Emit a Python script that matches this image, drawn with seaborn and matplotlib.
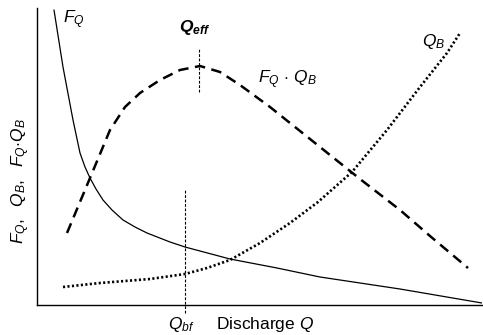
import matplotlib
matplotlib.use("Agg")
import matplotlib.pyplot as plt
import seaborn as sns

# Curves (arbitrary units: discharge vs. magnitude)
fq_x = [17, 26, 36, 43, 48, 53, 59, 66, 75, 86, 98, 110, 133, 148, 193, 240, 283, 363, 445]
fq_y = [295, 238, 185, 152, 138, 127, 116, 105, 95, 85, 78, 72, 63, 58, 46, 37, 28, 16, 2]

fqqb_x = [30, 53, 73, 88, 103, 123, 143, 163, 183, 203, 233, 263, 293, 323, 363, 393, 431]
fqqb_y = [72, 127, 175, 198, 212, 225, 235, 239, 233, 220, 198, 174, 150, 126, 95, 69, 37]

qb_x = [26, 63, 113, 148, 170, 193, 223, 253, 281, 315, 350, 383, 410, 423]
qb_y = [18, 22, 26, 31, 37, 45, 62, 82, 103, 133, 175, 218, 252, 272]

q_eff = 162
q_eff_span = (213, 256)
q_bf = 148
q_bf_top = 115

sns.set_theme(style="white")
plt.rcParams["font.family"] = ["Liberation Sans", "DejaVu Sans"]
plt.rcParams["text.color"] = "black"
plt.rcParams["mathtext.fontset"] = "custom"
plt.rcParams["mathtext.rm"] = "Liberation Sans"
plt.rcParams["mathtext.it"] = "Liberation Sans:italic"
plt.rcParams["mathtext.bf"] = "Liberation Sans:italic:bold"

fig = plt.figure(figsize=(4.83, 3.35), dpi=100)
ax = fig.add_axes([37 / 483, 30 / 335, 445 / 483, 297 / 335])

sns.lineplot(x=fq_x, y=fq_y, color="black", lw=0.9, ax=ax)
sns.lineplot(x=fqqb_x, y=fqqb_y, color="black", lw=1.8, ax=ax).lines[-1].set_dashes((4.2, 2.6))
sns.lineplot(x=qb_x, y=qb_y, color="black", lw=1.9, ax=ax).lines[-1].set_dashes((0.8, 0.9))

ax.plot([q_eff, q_eff], q_eff_span, color="black", lw=0.8, dashes=(2.5, 1.5))
ax.plot([q_bf, q_bf], [-8, q_bf_top], color="black", lw=0.8, dashes=(2.5, 1.5), clip_on=False)

ax.set_xlim(0, 445)
ax.set_ylim(0, 297)
ax.set_xticks([])
ax.set_yticks([])
for side in ["top", "right"]:
    ax.spines[side].set_visible(False)
for side in ["left", "bottom"]:
    ax.spines[side].set_color("black")
    ax.spines[side].set_linewidth(1.0)

fs = 12.5
ax.text(26, 285, r"$F_Q$", fontsize=fs, ha="left", va="center")
ax.text(158, 277, r"$\mathbf{Q_{eff}}$", fontsize=fs, ha="center", va="center")
ax.text(221, 225, r"$F_Q\,\cdot\,Q_B$", fontsize=fs, ha="left", va="center")
ax.text(397, 263, r"$Q_B$", fontsize=fs, ha="center", va="center")
ax.text(144, -20, r"$Q_{bf}$", fontsize=fs, ha="center", va="center", clip_on=False)
ax.text(179, -20, r"Discharge $Q$", fontsize=fs, ha="left", va="center", clip_on=False)

fig.text(21 / 483, 1 - 181 / 335, r"$F_{Q},$  $Q_B,$  $F_Q{\cdot}Q_B$", fontsize=fs,
         rotation=90, ha="center", va="center")

fig.savefig("out.png", dpi=100)
